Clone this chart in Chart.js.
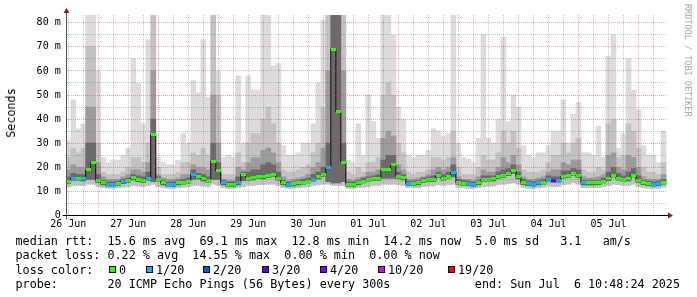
<!DOCTYPE html>
<html><head><meta charset="utf-8">
<script src="https://cdn.jsdelivr.net/npm/chart.js@4.4.1/dist/chart.umd.min.js"></script>
<style>
html,body{margin:0;padding:0;background:#fff;}
#wrap{position:relative;width:697px;height:297px;overflow:hidden;background:#fff;}
#c{position:absolute;left:0;top:0;}
.txt{position:absolute;white-space:pre;font-family:"DejaVu Sans Mono",monospace;font-size:11.75px;line-height:14px;color:#000;}
.box{position:absolute;width:5px;height:5px;border:1px solid #000;}
#ytitle{position:absolute;left:10.8px;top:113px;transform:translate(-50%,-50%) rotate(-90deg);white-space:pre;font-family:"DejaVu Sans Mono",monospace;font-size:11.75px;line-height:14px;color:#000;}
#wm{position:absolute;left:683px;top:4px;writing-mode:vertical-rl;white-space:pre;font-family:"DejaVu Sans Mono",monospace;font-size:8.5px;line-height:10px;color:#a8a8a8;}
</style></head>
<body>
<div id="wrap">
<canvas id="c" width="697" height="297"></canvas>
<div id="ytitle">Seconds</div>
<div id="wm">RRDTOOL / TOBI OETIKER</div>
<div class="txt" style="left:15.5px;top:234px">median rtt:  15.6 ms avg  69.1 ms max  12.8 ms min  14.2 ms now  5.0 ms sd   3.1   am/s</div>
<div class="txt" style="left:15.5px;top:248.3px">packet loss: 0.22 % avg  14.55 % max  0.00 % min  0.00 % now</div>
<div class="txt" id="lossrow" style="left:15.5px;top:262.6px">loss color:</div>
<div class="txt" style="left:15.5px;top:277px">probe:       20 ICMP Echo Pings (56 Bytes) every 300s</div>
<div class="txt" style="right:17px;top:277px">end: Sun Jul  6 10:48:24 2025</div>
</div>
<script>
// ---- data (hours since 26 Jun 00:00, 2-hour bins) ----
const dayLabels = ['26 Jun','27 Jun','28 Jun','29 Jun','30 Jun','01 Jul','02 Jul','03 Jul','04 Jul','05 Jul'];
const yTickValues = [0,5,10,15,20,25,30,35,40,45,50,55,60,65,70,75,80];
const median = [
 14.1,15.5,15.5,15.2,19,22,14.5,13.5,13,13, 13.3,14,14.5,15.6,14.8,14.5,15.5,33.5,15,13.5, 13,12.9,13.5,13.8,14.2,17,16,15.2,14.6,22.6,
 18.5,13.5,12.9,12.9,13.5,17,15.5,15.6,16.2,16, 16.5,17,15.5,13.5,12.9,13.1,13.5,13.8,14.3,15, 16,17,20,69,43,22,12.9,12.9,13.5,14.3,
 15,15.4,15.4,19,19,21,16.2,15.6,13.3,13.3, 13.5,14.5,14.8,14.8,16.6,15.5,16.3,18,13.8,13.4, 13.3,12.9,13.5,15,15,15.2,16.2,16.6,17.3,18.5,
 16,13.6,13.2,13,13.5,13.8,15,14.5,14.6,16.3, 16.6,17.5,16.5,13.5,13.5,13.5,13.6,14.3,15.3,16.8, 15.5,15,15.2,16.8,14.5,13.6,13.2,13,13.2,13.8
];
const lossCount = [
 0,1,0,1,0,0,0,0,1,1, 0,1,0,0,0,0,1,0,0,0, 1,1,0,0,0,1,0,0,0,0,
 0,1,0,0,1,0,0,0,0,0, 0,0,0,0,1,0,0,0,0,1, 0,0,1,0,0,0,0,0,0,0,
 0,0,0,0,0,0,0,0,1,0, 0,0,0,0,0,0,0,1,0,0, 1,1,0,0,0,0,0,0,0,0,
 0,0,1,1,1,0,1,3,1,0, 0,0,0,1,0,0,0,0,0,0, 0,0,0,0,0,0,0,1,1,0
];
const maxPing = [
 31,48,36,38,90,90,60,24,22,23, 23,25,28,65,55,38,73,90,24,22, 21,21,23,34,30,56,51,73,49,90,
 60,24,25,24,58,30,58,52,52,90, 90,62,63,29,25,25,26,30,30,38, 55,81,90,90,90,90,23,22,38,25,
 50,39,32,90,90,75,45,40,25,24, 25,25,27,36,35,33,34,90,30,24, 23.5,22,32,75,32,30,40,74,39,50,
 45,29,25,24,26,26,29,35,35,48, 30,42,47,26,26,25,37,24,66,75, 28,34,65,52,44,29,25,25,22,35
];
const band2Top = [
 24,28,26,28,70,70,30,18,17,17, 17,18,20,24,24,22,30,90,20,17, 17,17,18,22,22,26,25,28,25,90,
 50,17,17,17,26,22,30,34,34,40, 45,38,30,19,18,18,19,20,21,26, 30,45,90,90,90,90,18,17,20,18,
 22,22,24,50,55,50,30,26,18,17, 18,18,19,24,24,23,24,35,20,17, 17,17,20,25,23,23,26,35,30,35,
 28,19,18,18,18,19,22,25,25,30, 26,30,32,19,18,18,20,19,38,40, 24,25,38,35,28,20,18,18,17,22
];
const band3Top = [
 19,21,20,20,45,45,22,16,15,15, 15,16,17,19,19,18,22,60,17,15.5, 15,15,15.5,17,17,21,20,20,19,50,
 30,15,14.5,14.5,20,19,22,24,24,27, 28,26,22,16,14.5,15,15.5,16,17,20, 22,28,60,90,90,60,15,14.5,15.5,16,
 18,18,19,32,35,33,21,19,15,15, 15.5,16,17,19,20,19,20,24,16,15, 15,14.5,16,19,18,18,20,24,22,25,
 21,16,15,15,15.5,16,18,19,19,22, 21,23,23,16,15.5,15.5,16,17,25,26, 20,19,25,24,20,16,15,15,15,17
];
const band4Top = [
 16,17.5,17,17,30,30,17,14.5,14,14, 14.3,15,15.5,17,16.5,16,18,40,16,14.5, 14,14,14.5,15,15.5,19,17.5,17,16,30,
 22,14.5,14,14,16,18,18,19,19,21, 22,21,18,14.5,14,14,14.5,15,15.5,17, 18,20,30,90,90,30,14,14,14.5,15.5,
 16,16.5,17,23,25,25,18,17,14.3,14.3, 14.5,15.5,16,16.5,18,17,18,21,15,14.5, 14.3,14,14.5,16.5,16.5,16.5,18,19,19.5,21,
 18,15,14.3,14,14.5,15,16.5,16,16,18.5, 18.5,19.5,19,14.5,14.5,14.5,14.5,15.5,18,20, 17.5,16.5,18,19.5,16.5,14.5,14.3,14,14.3,15
];
const minPing = [
 12,12.5,12.5,12.5,13,13,12,11.5,11.3,11.3, 11.5,11.8,12,12.5,12.3,12,12.5,13,12,11.5, 11.3,11.2,11.5,11.8,12,12.5,12.5,12.3,12,13,
 12.5,11.5,11.2,11.2,11.5,12,12.5,12.5,12.8,12.8, 13,13,12.5,11.5,11.2,11.3,11.5,11.8,12,12.5, 12.8,13,13,12.5,12.5,12.5,11.3,11.2,11.5,11.8,
 12,12.5,12.5,13,13,13,12.8,12.5,11.5,11.5, 11.5,12,12.3,12.3,12.8,12.5,12.8,13,11.8,11.5, 11.3,11.2,11.5,12,12.2,12.3,12.8,13,13.2,13.5,
 13,11.8,11.3,11.2,11.5,11.8,12.3,12,12,12.8, 13,13.5,13,11.5,11.5,11.5,11.6,12,12.5,13, 12.8,12.5,12.5,13,12,11.6,11.3,11.2,11.3,11.8
];
const coreLow = [
 13.3,14.7,14.7,14.4,15,15,13.7,12.7,12.2,12.2, 12.5,13.2,13.7,14.8,14,13.7,14.7,14,14.2,12.7, 12.2,12.1,12.7,13,13.4,15,15.2,14.4,13.8,15,
 15,12.7,12.1,12.1,12.7,14.5,14.7,14.8,15.4,15.2, 15.7,16.2,14.7,12.7,12.1,12.3,12.7,13,13.5,14.2, 15.2,16.2,14,13.5,13.5,14,12.1,12.1,12.7,13.5,
 14.2,14.6,14.6,15.5,15.5,15.5,15.4,14.8,12.5,12.5, 12.7,13.7,14,14,15.8,14.7,15.5,16,13,12.6, 12.5,12.1,12.7,14.2,14.2,14.4,15.4,15.8,16.5,17.5,
 15.2,12.8,12.4,12.2,12.7,13,14.2,13.7,13.8,15.5, 15.8,16.7,15.7,12.7,12.7,12.7,12.8,13.5,14.5,16, 14.7,14.2,14.4,16,13.7,12.8,12.4,12.2,12.4,13
];
const lossLevels = ['0','1/20','2/20','3/20','4/20','10/20','19/20'];
const lossLevelCounts = [0,1,2,3,4,10,19];
const lossColors = ['#26ff00','#00b8ff','#0059ff','#5e00ff','#7e00ff','#dd00ff','#ff0000'];

// ---- derived ----
const binHours = median.map((_, i) => 12 + 2 * i);
const gridHours = []; for (let h = 12; h <= 246; h += 6) gridHours.push(h);
function colorForLoss(n){ let c = lossColors[0]; lossLevelCounts.forEach((l,i)=>{ if (n >= l) c = lossColors[i]; }); return c; }
const markerCache = {};
function marker(color){ if (!markerCache[color]) { const c = document.createElement('canvas'); c.width = 5; c.height = 3; const g = c.getContext('2d'); g.fillStyle = color; g.fillRect(0,0,5,3); markerCache[color] = c; } return markerCache[color]; }
const pts = arr => arr.map((v,i)=>({x: binHours[i], y: v}));
const band = (lo, hi) => hi.map((v,i)=>({x: binHours[i], y: [lo[i], v]}));

// legend row 3
const boxLefts = [109,146,203,262,320,378,448];
const row = document.getElementById('lossrow');
const wrap = document.getElementById('wrap');
lossLevels.forEach((lab,i)=>{
  const b = document.createElement('div'); b.className='box'; b.style.left = boxLefts[i]+'px'; b.style.top='265.5px'; b.style.background = lossColors[i]; wrap.appendChild(b);
  const t = document.createElement('div'); t.className='txt'; t.style.left=(boxLefts[i]+10)+'px'; t.style.top='262.6px'; t.textContent = lab; wrap.appendChild(t);
});

const majorGrid = 'rgba(225,60,60,0.45)';
const minorGrid = 'rgba(120,120,120,0.42)';
const tickFont = {family:'"DejaVu Sans Mono", monospace', size:10};

const axesPlugin = {
  id:'axes',
  afterDraw(chart){
    const {ctx, chartArea:{left,right,top,bottom}} = chart;
    ctx.save();
    const yb = Math.floor(bottom) + 0.5, xl = Math.floor(left) + 0.5;
    ctx.lineWidth = 1;
    ctx.strokeStyle = '#555';
    ctx.beginPath(); ctx.moveTo(xl, bottom + 4); ctx.lineTo(xl, top - 2); ctx.stroke();
    ctx.strokeStyle = '#000';
    ctx.beginPath(); ctx.moveTo(left - 4, yb); ctx.lineTo(right + 2, yb); ctx.stroke();
    ctx.fillStyle = '#8b1a1a';
    ctx.beginPath(); ctx.moveTo(right + 1, yb - 3); ctx.lineTo(right + 6, yb); ctx.lineTo(right + 1, yb + 3); ctx.closePath(); ctx.fill();
    ctx.beginPath(); ctx.moveTo(xl - 3, top - 2); ctx.lineTo(xl, top - 7); ctx.lineTo(xl + 3, top - 2); ctx.closePath(); ctx.fill();
    ctx.restore();
  }
};

new Chart(document.getElementById('c'), {
  type: 'bar',
  data: { datasets: [
    { type:'line', data: pts(median), showLine:false, pointStyle: lossCount.map(n=>marker(colorForLoss(n))), pointRadius:2, pointHoverRadius:2, order:0 },
    { type:'line', data: pts(median), stepped:'middle', borderColor:'#111', borderWidth:1, pointRadius:0, fill:false, order:1 },
    { data: band(coreLow, band4Top), backgroundColor:'#6a6a6a', order:2 },
    { data: band(coreLow, band3Top), backgroundColor:'#9c9c9c', order:3 },
    { data: band(minPing, band2Top), backgroundColor:'#c2c2c2', order:4 },
    { data: band(minPing, maxPing), backgroundColor:'#dcdcdc', order:5 }
  ]},
  options: {
    responsive:false, animation:false, devicePixelRatio:1,
    layout:{ padding:{ left:0, right:30, top:15, bottom:0 } },
    datasets:{ bar:{ grouped:false, barPercentage:1, categoryPercentage:1, borderWidth:0 } },
    plugins:{ legend:{display:false}, tooltip:{enabled:false} },
    scales:{
      x:{ type:'linear', min:11.4, max:251.4, offset:false,
        afterBuildTicks: s => { s.ticks = gridHours.map(v=>({value:v})); },
        afterFit: s => { s.height = 81.5; },
        grid:{ z:1, offset:false, drawTicks:false, lineWidth:1, color: c => (c.tick && c.tick.value % 24 === 0) ? majorGrid : minorGrid },
        border:{ display:false, dash:[1,1] },
        ticks:{ autoSkip:false, maxRotation:0, padding:3, font:tickFont, color:'#000',
          callback: v => (v % 24 === 12) ? dayLabels[(v - 12) / 24] : '' }
      },
      y:{ type:'linear', min:0, max:83.2,
        afterBuildTicks: s => { s.ticks = yTickValues.map(v=>({value:v})); },
        afterFit: s => { s.width = 66.7; },
        grid:{ z:1, drawTicks:false, lineWidth:1, color: c => (c.tick && c.tick.value % 10 === 0) ? majorGrid : minorGrid },
        border:{ display:false, dash:[1,1] },
        ticks:{ autoSkip:false, padding:6, font:tickFont, color:'#000',
          callback: v => (v % 10 === 0) ? (v === 0 ? '0' : v + ' m') : '' }
      }
    }
  },
  plugins:[axesPlugin]
});
</script>
</body></html>
